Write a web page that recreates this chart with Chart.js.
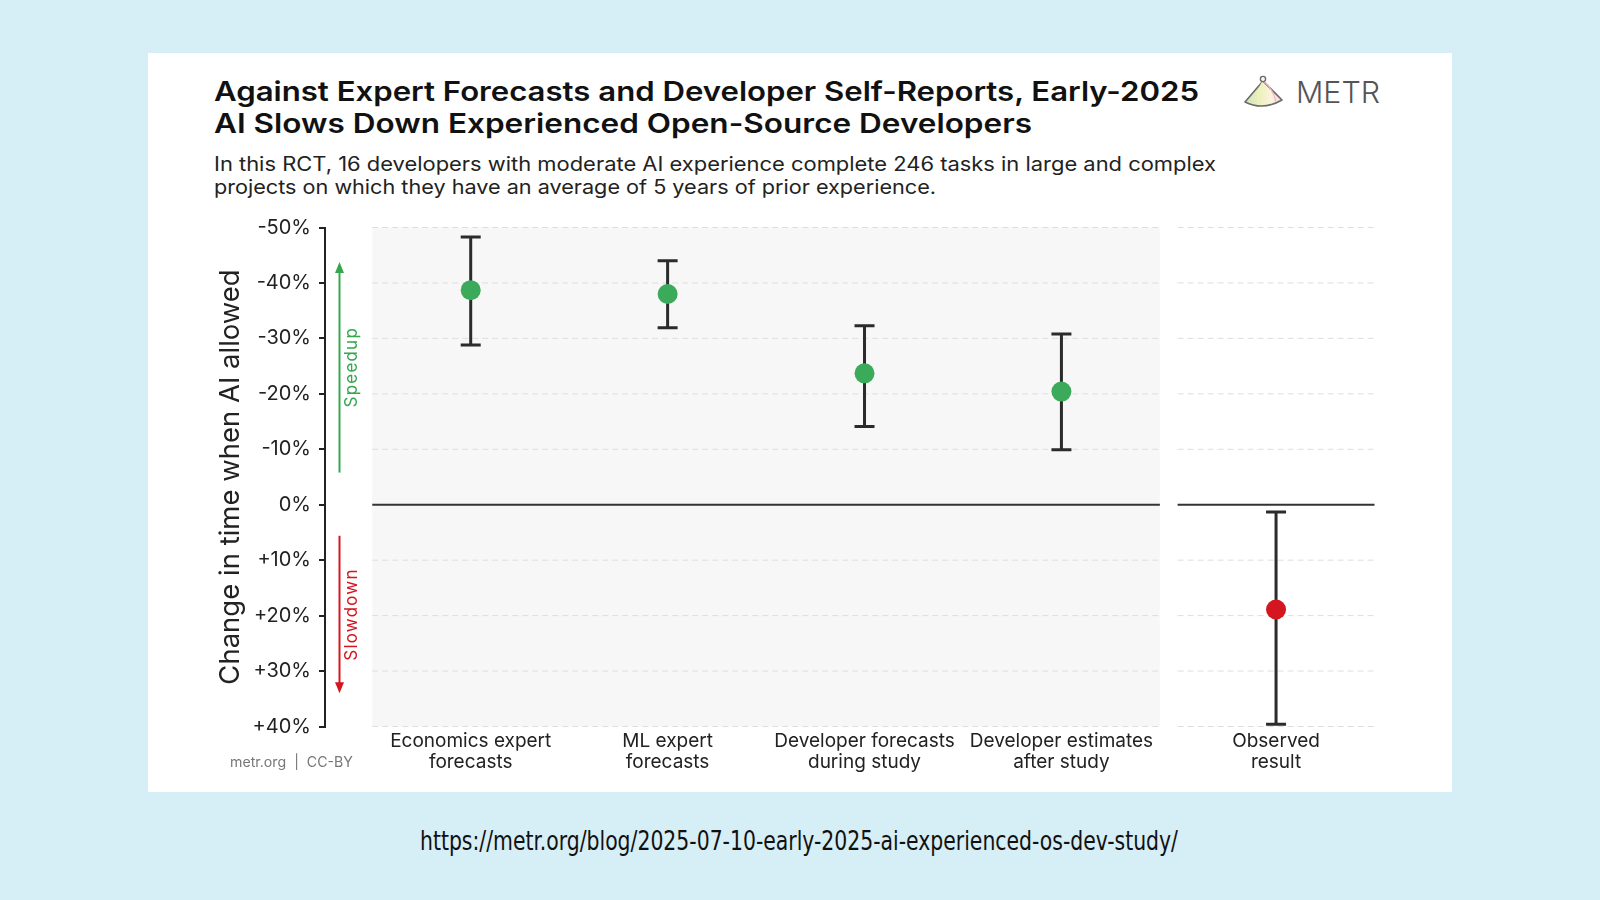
<!DOCTYPE html>
<html>
<head>
<meta charset="utf-8">
<script src="https://cdn.jsdelivr.net/npm/chart.js@4.4.1/dist/chart.umd.min.js"></script>
<style>
  html, body { margin: 0; padding: 0; }
  body { width: 1600px; height: 900px; background: #d6eef5; position: relative; overflow: hidden;
         font-family: Inter, "Noto Sans", "DejaVu Sans", sans-serif; }
  #card { position: absolute; left: 148px; top: 53px; width: 1304px; height: 739px; background: #ffffff; }
  .fit { position: absolute; white-space: nowrap; transform-origin: 0 0; }
  .title { font-weight: 600; font-size: 27px; line-height: 32px; color: #111; }
  .sub { font-weight: 400; font-size: 19.5px; line-height: 22px; color: #222; }
  #metr { font-weight: 300; font-size: 30px; line-height: 30px; color: #555; }
  #foot { font-size: 14px; line-height: 16px; color: #777; }
  #url { font-family: "Liberation Sans Narrow", "DejaVu Sans Condensed", "DejaVu Sans", sans-serif; font-size: 26px; line-height: 30px; color: #111; }
  #chart { position: absolute; left: 148px; top: 200px; }
  #logo { position: absolute; left: 1243px; top: 74px; }
</style>
</head>
<body>
<div id="card"></div>
<div class="fit title" style="left:214px;top:76px" data-w="985">Against Expert Forecasts and Developer Self-Reports, Early-2025</div>
<div class="fit title" style="left:214px;top:108px" data-w="818">AI Slows Down Experienced Open-Source Developers</div>
<div class="fit sub" style="left:214px;top:153px" data-w="1002">In this RCT, 16 developers with moderate AI experience complete 246 tasks in large and complex</div>
<div class="fit sub" style="left:214px;top:175.5px" data-w="722">projects on which they have an average of 5 years of prior experience.</div>
<svg id="logo" width="42" height="36" viewBox="0 0 42 36">
  <defs>
    <linearGradient id="fan" x1="0" y1="0" x2="1" y2="0">
      <stop offset="0" stop-color="#cfe6b4"/>
      <stop offset="0.45" stop-color="#eef1c4"/>
      <stop offset="0.7" stop-color="#fbf3dc"/>
      <stop offset="1" stop-color="#f6d3dc"/>
    </linearGradient>
  </defs>
  <path d="M20,7 L2,28 Q20,37 39,26 Z" fill="url(#fan)" stroke="#6a6a6a" stroke-width="1.6" stroke-linejoin="round"/>
  <path d="M20,7 Q30,14 33,28" fill="none" stroke="#f2b8c8" stroke-width="1.2"/>
  <path d="M20,7 Q14,16 15,31" fill="none" stroke="#f5f0b0" stroke-width="1.2"/>
  <circle cx="20" cy="5" r="2.6" fill="#fff" stroke="#6a6a6a" stroke-width="1.4"/>
</svg>
<div id="metr" class="fit" style="left:1296px;top:77px" data-w="84">METR</div>
<canvas id="chart" width="1304" height="592"></canvas>
<div id="foot" class="fit" style="left:230px;top:754px" data-w="123">metr.org&nbsp;&nbsp;|&nbsp;&nbsp;CC-BY</div>
<div id="url" class="fit" style="left:420px;top:826px" data-w="758">https://metr.org/blog/2025-07-10-early-2025-ai-experienced-os-dev-study/</div>

<script>
// ---------------- DATA ----------------
const categories = [
  ['Economics expert', 'forecasts'],
  ['ML expert', 'forecasts'],
  ['Developer forecasts', 'during study'],
  ['Developer estimates', 'after study'],
  ['Observed', 'result']
];
const estimates = [-38.7, -38.0, -23.7, -20.4, 18.9];   // change in time (%), negative = speedup
const ciMin     = [-48.3, -44.0, -32.3, -30.8, 1.3];
const ciMax     = [-28.8, -31.9, -14.1, -9.9, 39.6];
const kinds     = ['forecast', 'forecast', 'forecast', 'forecast', 'observed'];
const yTicks    = [-50, -40, -30, -20, -10, 0, 10, 20, 30, 40];
const yTitle    = 'Change in time when AI allowed';
const speedLabel = 'Speedup';
const slowLabel  = 'Slowdown';

// ---------------- STYLE ----------------
const GREEN = '#3caa5b';
const RED = '#d3161f';
const INK = '#2b2b2b';
const PANEL_GAP = 0.09;       // gap between forecast panel and observed panel (in category units)
const X_LEFT_PAD = 0.24;      // space between y axis and first panel (in category units)
const xOf = i => i + 0.5 + (kinds[i] === 'observed' ? PANEL_GAP : 0);
const panels = [[0, 4, '#f7f7f7'], [4 + PANEL_GAP, 5 + PANEL_GAP, null]];

// fit header texts horizontally
document.querySelectorAll('.fit').forEach(el => {
  const w = el.getBoundingClientRect().width;
  const target = parseFloat(el.dataset.w);
  if (w > 0 && target) el.style.transform = 'scaleX(' + (target / w) + ')';
});

Chart.defaults.font.family = 'Inter, "Noto Sans", "DejaVu Sans", sans-serif';
Chart.defaults.color = '#222';

const backdrop = {
  id: 'backdrop',
  beforeDatasetsDraw(chart) {
    const {ctx, chartArea, scales: {x, y}} = chart;
    const {top, bottom, left} = chartArea;
    ctx.save();
    // panels & grid
    panels.forEach(([a, b, fill]) => {
      const xa = x.getPixelForValue(a), xb = x.getPixelForValue(b);
      if (fill) { ctx.fillStyle = fill; ctx.fillRect(xa, top, xb - xa, bottom - top); }
      yTicks.forEach(v => {
        const py = y.getPixelForValue(v);
        ctx.beginPath();
        if (v === 0) { ctx.setLineDash([]); ctx.strokeStyle = '#333'; ctx.lineWidth = 2; }
        else { ctx.setLineDash([6, 4]); ctx.strokeStyle = '#dedede'; ctx.lineWidth = 1; }
        ctx.moveTo(xa, py); ctx.lineTo(xb, py); ctx.stroke();
      });
    });
    ctx.setLineDash([]);
    // direction arrows
    const ax = left + 14.5;
    const arrow = (from, to, color, label) => {
      const y1 = y.getPixelForValue(from), y2 = y.getPixelForValue(to);
      const dir = Math.sign(y2 - y1);
      ctx.strokeStyle = color; ctx.fillStyle = color; ctx.lineWidth = 2;
      ctx.beginPath(); ctx.moveTo(ax, y1); ctx.lineTo(ax, y2 - dir * 6); ctx.stroke();
      ctx.beginPath(); ctx.moveTo(ax, y2); ctx.lineTo(ax - 4.5, y2 - dir * 11); ctx.lineTo(ax + 4.5, y2 - dir * 11); ctx.closePath(); ctx.fill();
      ctx.save();
      ctx.translate(ax + 12.5, (y1 + y2) / 2);
      ctx.rotate(-Math.PI / 2);
      ctx.font = '17px Inter, "Noto Sans", sans-serif';
      try { ctx.letterSpacing = '1.2px'; } catch (e) {}
      ctx.textAlign = 'center'; ctx.textBaseline = 'middle';
      ctx.fillText(label, 0, 0);
      ctx.restore();
    };
    arrow(-5.8, -43.8, '#35a84e', speedLabel);
    arrow(5.6, 34.0, '#d3161f', slowLabel);
    // error bars
    ctx.strokeStyle = INK; ctx.lineWidth = 3; ctx.lineCap = 'butt';
    estimates.forEach((v, i) => {
      const px = x.getPixelForValue(xOf(i));
      const p1 = y.getPixelForValue(ciMin[i]), p2 = y.getPixelForValue(ciMax[i]);
      ctx.beginPath();
      ctx.moveTo(px, p1); ctx.lineTo(px, p2);
      ctx.moveTo(px - 10, p1); ctx.lineTo(px + 10, p1);
      ctx.moveTo(px - 10, p2); ctx.lineTo(px + 10, p2);
      ctx.stroke();
    });
    ctx.restore();
  }
};

new Chart(document.getElementById('chart'), {
  type: 'scatter',
  data: {
    datasets: [{
      data: estimates.map((v, i) => ({x: xOf(i), y: v})),
      pointRadius: 10,
      pointHoverRadius: 10,
      backgroundColor: kinds.map(k => k === 'observed' ? RED : GREEN),
      borderWidth: 0
    }]
  },
  options: {
    responsive: false,
    animation: false,
    events: [],
    layout: {padding: {left: 0, top: 27.5, right: 77.5, bottom: 0}},
    plugins: {legend: {display: false}, tooltip: {enabled: false}},
    scales: {
      x: {
        type: 'linear',
        min: -X_LEFT_PAD,
        max: 5 + PANEL_GAP,
        afterBuildTicks: s => { s.ticks = categories.map((c, i) => ({value: xOf(i)})); },
        afterFit: s => { s.height = 65.5; },
        grid: {display: false},
        border: {display: false},
        ticks: {autoSkip: false, maxRotation: 0, minRotation: 0, padding: -4,
                font: {size: 19, lineHeight: 1.13}, color: '#222',
                callback: (v, i) => categories[i]}
      },
      y: {
        reverse: true,
        min: yTicks[0],
        max: yTicks[yTicks.length - 1],
        afterBuildTicks: s => { s.ticks = yTicks.map(v => ({value: v})); },
        afterFit: s => { s.width = 177; },
        grid: {drawOnChartArea: false, drawTicks: true, tickLength: 6, color: '#222', lineWidth: 2},
        border: {display: true, color: '#222', width: 2},
        ticks: {padding: 8, font: {size: 20}, color: '#222',
                callback: v => (v > 0 ? '+' + v : '' + v) + '%'},
        title: {display: true, text: yTitle, font: {size: 27.5}, color: '#222', padding: {top: 66}}
      }
    }
  },
  plugins: [backdrop]
});
</script>
</body>
</html>
